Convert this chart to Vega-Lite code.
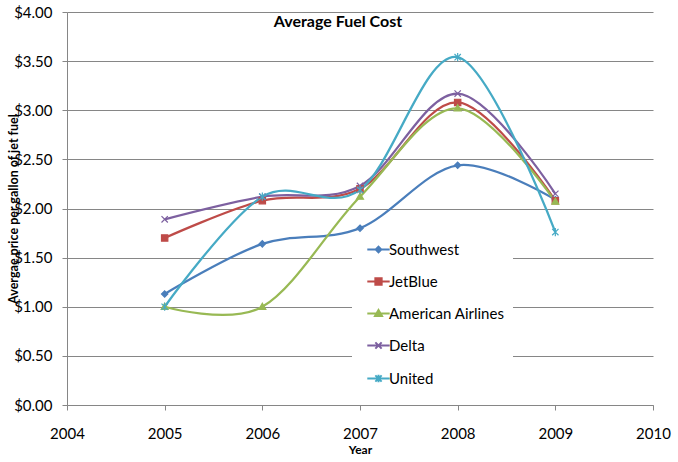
{
  "$schema": "https://vega.github.io/schema/vega-lite/v6.json",
  "width": 586,
  "height": 393,
  "autosize": "none",
  "padding": {"left": 67, "top": 12, "right": 25, "bottom": 57},
  "background": "white",
  "config": {"view": {"stroke": null}, "font": "Lato"},
  "title": {"text": "Average Fuel Cost", "font": "Lato", "fontSize": 16, "fontWeight": "bold", "color": "black", "anchor": "middle", "frame": "group", "offset": -33, "baseline": "middle", "dx": -22},
  "data": {"values": [
    {"airline": "Southwest", "year": 2005, "price": 1.13},
    {"airline": "Southwest", "year": 2006, "price": 1.64},
    {"airline": "Southwest", "year": 2007, "price": 1.80},
    {"airline": "Southwest", "year": 2008, "price": 2.44},
    {"airline": "Southwest", "year": 2009, "price": 2.09},
    {"airline": "JetBlue", "year": 2005, "price": 1.70},
    {"airline": "JetBlue", "year": 2006, "price": 2.08},
    {"airline": "JetBlue", "year": 2007, "price": 2.20},
    {"airline": "JetBlue", "year": 2008, "price": 3.08},
    {"airline": "JetBlue", "year": 2009, "price": 2.08},
    {"airline": "American Airlines", "year": 2005, "price": 1.00},
    {"airline": "American Airlines", "year": 2006, "price": 1.00},
    {"airline": "American Airlines", "year": 2007, "price": 2.12},
    {"airline": "American Airlines", "year": 2008, "price": 3.02},
    {"airline": "American Airlines", "year": 2009, "price": 2.07},
    {"airline": "Delta", "year": 2005, "price": 1.89},
    {"airline": "Delta", "year": 2006, "price": 2.12},
    {"airline": "Delta", "year": 2007, "price": 2.23},
    {"airline": "Delta", "year": 2008, "price": 3.17},
    {"airline": "Delta", "year": 2009, "price": 2.15},
    {"airline": "United", "year": 2005, "price": 1.00},
    {"airline": "United", "year": 2006, "price": 2.12},
    {"airline": "United", "year": 2007, "price": 2.19},
    {"airline": "United", "year": 2008, "price": 3.54},
    {"airline": "United", "year": 2009, "price": 1.76}
  ]},
  "encoding": {
    "x": {"field": "year", "type": "quantitative",
      "scale": {"domain": [2004, 2010], "nice": false, "zero": false},
      "axis": {"title": "Year", "values": [2004, 2005, 2006, 2007, 2008, 2009, 2010], "format": "d", "grid": false,
        "domainColor": "#868686", "tickColor": "#868686", "tickSize": 5, "labelFlush": false,
        "labelFont": "Lato", "labelFontSize": 15, "labelColor": "black", "labelPadding": 16,
        "titleFont": "Lato", "titleFontSize": 12, "titleFontWeight": "bold", "titleColor": "black", "titlePadding": 3}},
    "y": {"field": "price", "type": "quantitative",
      "scale": {"domain": [0, 4], "nice": false},
      "axis": {"title": "Avergae price per gallon of jet fuel", "values": [0, 0.5, 1, 1.5, 2, 2.5, 3, 3.5, 4], "format": "$.2f",
        "gridColor": "#868686", "domainColor": "#868686", "tickColor": "#868686", "tickSize": 5, "labelPadding": 10,
        "labelFont": "Lato", "labelFontSize": 15, "labelColor": "black",
        "titleFont": "Lato", "titleFontSize": 12.5, "titleFontWeight": "bold", "titleColor": "black",
        "titleX": -54, "titleBaseline": "middle"}}
  },
  "layer": [
    {
      "mark": {"type": "line", "interpolate": "cardinal", "strokeWidth": 2.25},
      "encoding": {
        "color": {"field": "airline", "type": "nominal",
          "scale": {"domain": ["Southwest", "JetBlue", "American Airlines", "Delta", "United"], "range": ["#4A7EBB", "#BE4B48", "#98B954", "#7D60A0", "#46AAC5"]},
          "legend": null}
      }
    },
    {
      "mark": {"type": "point", "filled": true, "size": 40, "strokeWidth": 1.2, "opacity": 1},
      "encoding": {
        "color": {"field": "airline", "type": "nominal",
          "scale": {"domain": ["Southwest", "JetBlue", "American Airlines", "Delta", "United"], "range": ["#4A7EBB", "#BE4B48", "#98B954", "#7D60A0", "#46AAC5"]},
          "legend": null},
        "stroke": {"field": "airline", "type": "nominal",
          "scale": {"domain": ["Southwest", "JetBlue", "American Airlines", "Delta", "United"], "range": ["#4A7EBB", "#BE4B48", "#98B954", "#7D60A0", "#46AAC5"]},
          "legend": null},
        "shape": {"field": "airline", "type": "nominal",
          "scale": {"domain": ["Southwest", "JetBlue", "American Airlines", "Delta", "United"],
            "range": ["M0,-1L1,0L0,1L-1,0Z", "M-1,-1L1,-1L1,1L-1,1Z", "M0,-1.1L1.1,0.8L-1.1,0.8Z", "M-1,-1L1,1M1,-1L-1,1", "M-1,-1L1,1M1,-1L-1,1M0,-1.3L0,1.3"]},
          "legend": null}
      }
    },
    {
      "transform": [{"filter": "false"}],
      "mark": {"type": "point", "filled": false, "size": 49, "strokeWidth": 2, "opacity": 1},
      "encoding": {
        "color": {"field": "airline", "type": "nominal",
          "scale": {"domain": ["Southwest", "JetBlue", "American Airlines", "Delta", "United"], "range": ["#4A7EBB", "#BE4B48", "#98B954", "#7D60A0", "#46AAC5"]},
          "legend": {"orient": "none", "legendX": 285, "legendY": 222, "title": null, "fillColor": "white", "padding": 8,
            "labelFont": "Lato", "labelFontSize": 15, "labelColor": "black", "labelOffset": 3,
            "symbolSize": 49, "symbolStrokeWidth": 2, "symbolOffset": 11, "rowPadding": 16, "symbolOpacity": 1}},
        "fill": {"field": "airline", "type": "nominal",
          "scale": {"domain": ["Southwest", "JetBlue", "American Airlines", "Delta", "United"], "range": ["#4A7EBB", "#BE4B48", "#98B954", "#7D60A0", "#46AAC5"]},
          "legend": {"orient": "none", "legendX": 285, "legendY": 222, "title": null, "fillColor": "white", "padding": 8,
            "labelFont": "Lato", "labelFontSize": 15, "labelColor": "black", "labelOffset": 3,
            "symbolSize": 49, "symbolStrokeWidth": 2, "symbolOffset": 11, "rowPadding": 16, "symbolOpacity": 1}},
        "shape": {"field": "airline", "type": "nominal",
          "scale": {"domain": ["Southwest", "JetBlue", "American Airlines", "Delta", "United"],
            "range": ["M-3.2,0L3.2,0M0,-0.8L0.8,0L0,0.8L-0.8,0Z", "M-3.2,0L3.2,0M-0.9,-0.9L0.9,-0.9L0.9,0.9L-0.9,0.9Z", "M-3.2,0L3.2,0M0,-1L1,0.7L-1,0.7Z", "M-3.2,0L3.2,0M-0.9,-0.9L0.9,0.9M0.9,-0.9L-0.9,0.9", "M-3.2,0L3.2,0M-0.9,-0.9L0.9,0.9M0.9,-0.9L-0.9,0.9M0,-1.1L0,1.1"]},
          "legend": {"orient": "none", "legendX": 285, "legendY": 222, "title": null, "fillColor": "white", "padding": 8,
            "labelFont": "Lato", "labelFontSize": 15, "labelColor": "black", "labelOffset": 3,
            "symbolSize": 49, "symbolStrokeWidth": 2, "symbolOffset": 11, "rowPadding": 16, "symbolOpacity": 1}}
      }
    }
  ],
  "resolve": {"scale": {"shape": "independent", "color": "independent", "fill": "independent", "stroke": "independent"}}
}
